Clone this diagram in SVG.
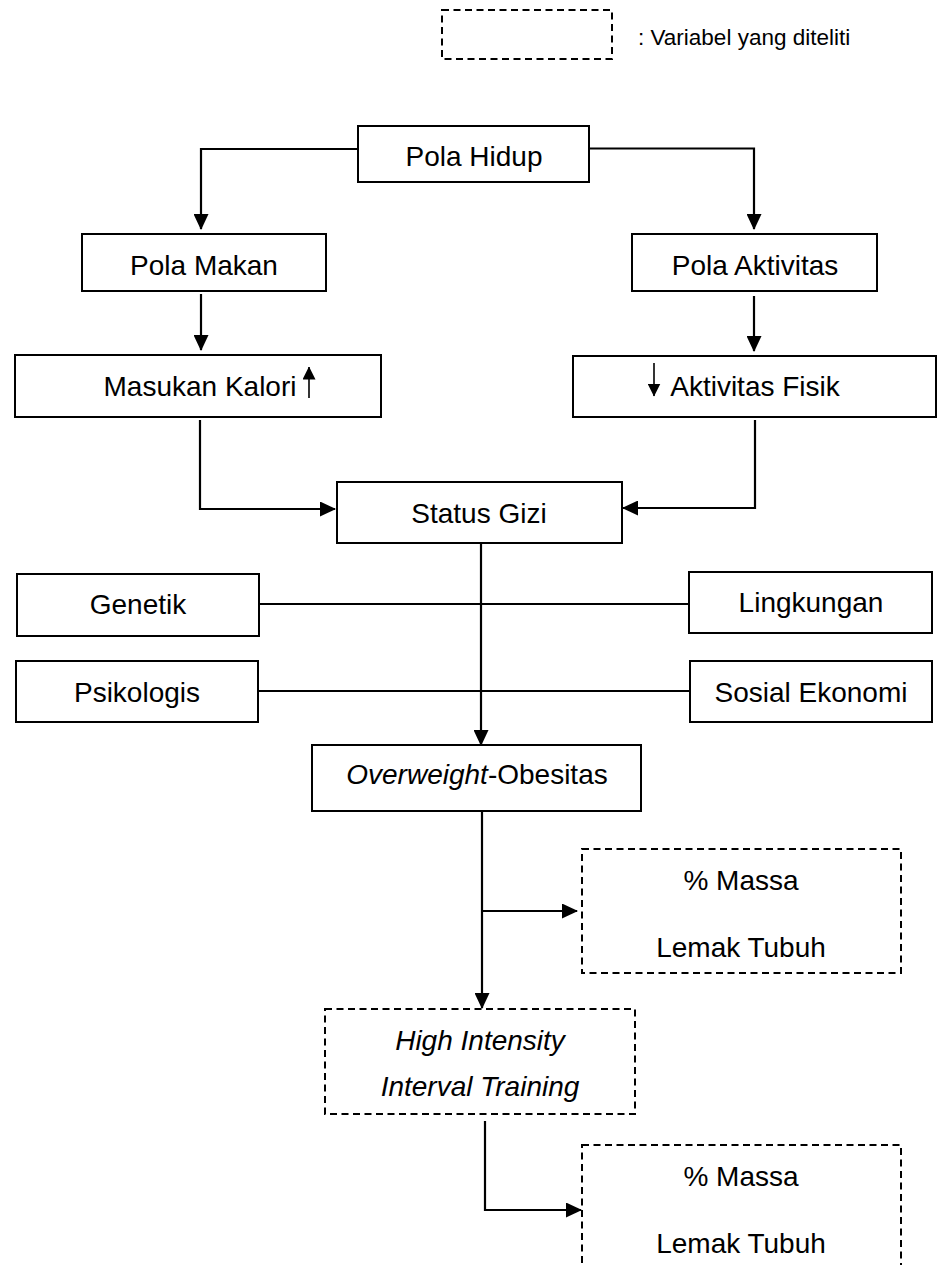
<svg xmlns="http://www.w3.org/2000/svg" width="938" height="1265" viewBox="0 0 938 1265">
<style>
.box{fill:#fff;stroke:#000;stroke-width:2}
.dbox{fill:#fff;stroke:#000;stroke-width:2;stroke-dasharray:7 4.5}
.t{font-family:"Liberation Sans",Arial,sans-serif;font-size:28px;fill:#000;text-anchor:middle}
.it{font-style:italic}
.conn{fill:none;stroke:#000;stroke-width:2.2}
.small{fill:none;stroke:#000;stroke-width:1.6}
</style>
<defs>
<marker id="arr" markerUnits="userSpaceOnUse" markerWidth="16" markerHeight="15" refX="15" refY="7.5" orient="auto">
<path d="M0,0 L16,7.5 L0,15 z" fill="#000"/>
</marker>
<marker id="sarr" markerUnits="userSpaceOnUse" markerWidth="13" markerHeight="13" refX="12.5" refY="6.5" orient="auto">
<path d="M0,0 L13,6.5 L0,13 z" fill="#000"/>
</marker>
</defs>
<rect width="938" height="1265" fill="#fff"/>

<g id="legend">
<rect class="dbox" x="442" y="10" width="170" height="49"/>
<text class="t" x="638" y="45" style="text-anchor:start;font-size:22.5px">: Variabel yang diteliti</text>
</g>

<g id="connectors">
<path class="conn" d="M358,149 H201 V229" marker-end="url(#arr)"/>
<path class="conn" d="M589,148.5 H754 V229" marker-end="url(#arr)"/>
<path class="conn" d="M201,294 V350" marker-end="url(#arr)"/>
<path class="conn" d="M754,296 V351" marker-end="url(#arr)"/>
<path class="conn" d="M200,420 V509 H335" marker-end="url(#arr)"/>
<path class="conn" d="M755,420 V508 H623" marker-end="url(#arr)"/>
<path class="conn" d="M481,543 V745" marker-end="url(#arr)"/>
<path class="conn" d="M259,604 H689"/>
<path class="conn" d="M258,691 H690"/>
<path class="conn" d="M482,811 V1008" marker-end="url(#arr)"/>
<path class="conn" d="M482,911 H577" marker-end="url(#arr)"/>
<path class="conn" d="M485,1121 V1210 H581" marker-end="url(#arr)"/>
</g>

<g id="pola-hidup">
<rect class="box" x="358" y="126" width="231" height="56"/>
<text class="t" x="474" y="166">Pola Hidup</text>
</g>
<g id="pola-makan">
<rect class="box" x="82" y="234" width="244" height="57"/>
<text class="t" x="204" y="275">Pola Makan</text>
</g>
<g id="pola-aktivitas">
<rect class="box" x="632" y="234" width="245" height="57"/>
<text class="t" x="755" y="275">Pola Aktivitas</text>
</g>
<g id="masukan-kalori">
<rect class="box" x="15" y="355" width="366" height="62"/>
<text class="t" x="200" y="396">Masukan Kalori</text>
<path class="small" d="M309,398 V367" marker-end="url(#sarr)"/>
</g>
<g id="aktivitas-fisik">
<rect class="box" x="573" y="356" width="363" height="61"/>
<path class="small" d="M654,363 V396" marker-end="url(#sarr)"/>
<text class="t" x="755" y="396">Aktivitas Fisik</text>
</g>
<g id="status-gizi">
<rect class="box" x="337" y="482" width="285" height="61"/>
<text class="t" x="479" y="523">Status Gizi</text>
</g>
<g id="genetik">
<rect class="box" x="17" y="574" width="242" height="62"/>
<text class="t" x="138" y="614">Genetik</text>
</g>
<g id="lingkungan">
<rect class="box" x="689" y="572" width="243" height="61"/>
<text class="t" x="811" y="612">Lingkungan</text>
</g>
<g id="psikologis">
<rect class="box" x="16" y="661" width="242" height="61"/>
<text class="t" x="137" y="702">Psikologis</text>
</g>
<g id="sosial-ekonomi">
<rect class="box" x="690" y="661" width="242" height="61"/>
<text class="t" x="811" y="702">Sosial Ekonomi</text>
</g>
<g id="overweight-obesitas">
<rect class="box" x="312" y="745" width="329" height="66"/>
<text class="t" x="477" y="784"><tspan class="it">Overweight</tspan>-Obesitas</text>
</g>
<g id="massa-lemak-1">
<rect class="dbox" x="582" y="849" width="319" height="124"/>
<text class="t" x="741" y="890">% Massa</text>
<text class="t" x="741" y="957">Lemak Tubuh</text>
</g>
<g id="hiit">
<rect class="dbox" x="325" y="1009" width="310" height="105"/>
<text class="t it" x="480" y="1050">High Intensity</text>
<text class="t it" x="480" y="1096">Interval Training</text>
</g>
<g id="massa-lemak-2">
<rect class="dbox" x="582" y="1145" width="319" height="200"/>
<text class="t" x="741" y="1186">% Massa</text>
<text class="t" x="741" y="1253">Lemak Tubuh</text>
</g>
</svg>
